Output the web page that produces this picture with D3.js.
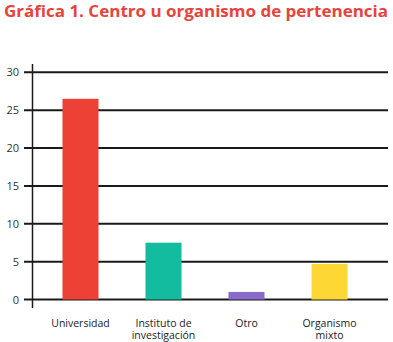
<!DOCTYPE html>
<html>
<head>
<meta charset="utf-8">
<script src="https://cdn.jsdelivr.net/npm/d3@7"></script>
<style>
  body { margin: 0; background: #fff; }
  text { font-family: "Open Sans", "DejaVu Sans", sans-serif; }
</style>
</head>
<body>
<script>
// chart data
const categories = [["Universidad"], ["Instituto de", "investigación"], ["Otro"], ["Organismo", "mixto"]];
const values = [26.5, 7.5, 1.0, 4.7];
const colors = ["#ee4136", "#13bc9f", "#8a6bc9", "#fdd835"];
const yTicks = [0, 5, 10, 15, 20, 25, 30];

const width = 393;
const height = 342;

var svg = d3.select("body").append("svg")
    .attr("width", width)
    .attr("height", height);

svg.append("text")
    .attr("x", 4)
    .attr("y", 17)
    .attr("font-size", 16)
    .attr("font-weight", "bold")
    .attr("fill", "#e8433b")
    .attr("textLength", 384)
    .attr("lengthAdjust", "spacingAndGlyphs")
    .text("Gráfica 1. Centro u organismo de pertenencia");

var xscale = d3.scaleBand()
    .domain(d3.range(categories.length))
    .range([39, 371])
    .paddingInner(0.566)
    .paddingOuter(0.283);

var yscale = d3.scaleLinear()
    .domain([0, 30])
    .range([299.5, 72.3]);

// gridlines
svg.append("g")
    .selectAll("line")
    .data(yTicks)
    .join("line")
    .attr("x1", 24)
    .attr("x2", 388)
    .attr("y1", d => yscale(d))
    .attr("y2", d => yscale(d))
    .attr("stroke", "#1a1a1a")
    .attr("stroke-width", 2);

// y axis line
svg.append("line")
    .attr("x1", 32.5).attr("x2", 32.5)
    .attr("y1", 64).attr("y2", 308)
    .attr("stroke", "#1a1a1a")
    .attr("stroke-width", 1.5);

// tick labels
svg.append("g")
    .selectAll("text")
    .data(yTicks)
    .join("text")
    .attr("x", 19)
    .attr("y", d => yscale(d) + 4)
    .attr("text-anchor", "end")
    .attr("font-size", 11)
    .attr("fill", "#333")
    .text(d => d);

// category labels, one text per line
var labelLines = [];
categories.forEach((lines, i) => {
    lines.forEach((t, j) => labelLines.push({i: i, j: j, t: t}));
});

svg.append("g")
    .selectAll("text")
    .data(labelLines)
    .join("text")
    .attr("x", d => xscale(d.i) + xscale.bandwidth() / 2)
    .attr("y", d => 327 + d.j * 12)
    .attr("text-anchor", "middle")
    .attr("font-size", 10.5)
    .attr("fill", "#222")
    .text(d => d.t);

// bars
svg.append("g")
    .selectAll("rect")
    .data(values)
    .join("rect")
    .attr("x", (d, i) => xscale(i))
    .attr("width", xscale.bandwidth())
    .attr("y", d => yscale(d))
    .attr("height", d => yscale(0) - yscale(d))
    .attr("fill", (d, i) => colors[i]);
</script>
</body>
</html>
